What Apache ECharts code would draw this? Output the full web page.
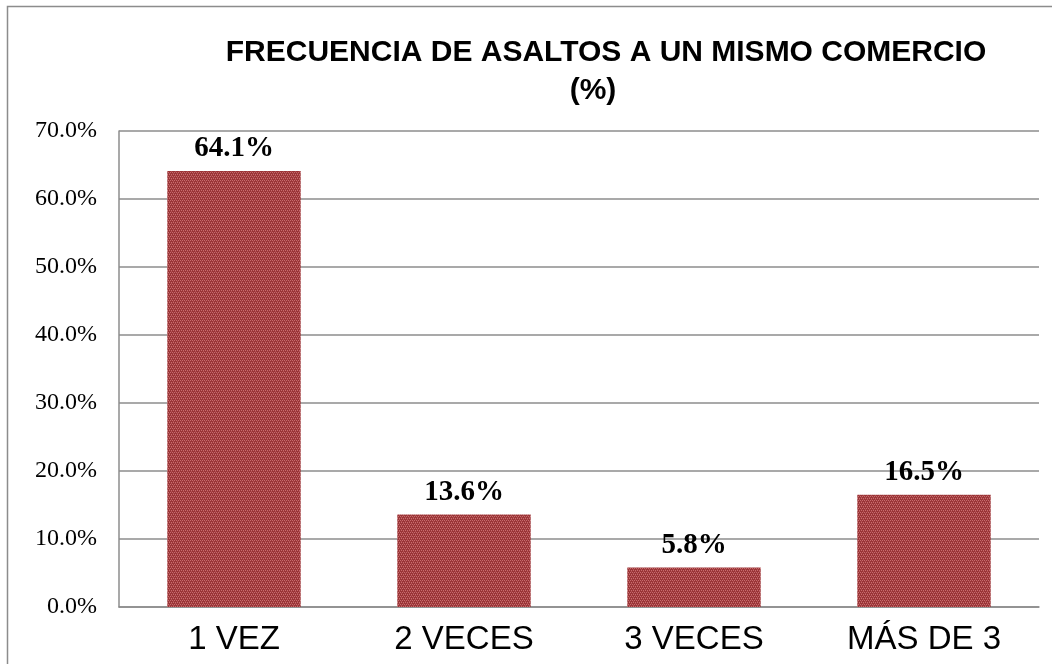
<!DOCTYPE html>
<html>
<head>
<meta charset="utf-8">
<script src="https://cdn.jsdelivr.net/npm/echarts@6/dist/echarts.min.js"></script>
<style>
  html, body { margin: 0; padding: 0; background: #fff; }
  #chart { width: 1052px; height: 664px; }
</style>
</head>
<body>
<div id="chart"></div>
<script>
// datos
var categorias = ["1 VEZ", "2 VECES", "3 VECES", "MÁS DE 3"];
var porcentajes = [64.1, 13.6, 5.8, 16.5];
var ticksY = [0, 10, 20, 30, 40, 50, 60, 70];

// textura de las barras (tramado rojo)
function makePattern() {
  var c = document.createElement("canvas");
  c.width = 4;
  c.height = 4;
  var ctx = c.getContext("2d");
  ctx.fillStyle = "#9a3537";
  ctx.fillRect(0, 0, 4, 4);
  ctx.fillStyle = "#c86c6e";
  ctx.fillRect(0, 0, 1, 1);
  ctx.fillRect(2, 0, 1, 1);
  ctx.fillRect(1, 2, 1, 1);
  ctx.fillRect(3, 2, 1, 1);
  ctx.fillStyle = "#b14e50";
  ctx.fillRect(1, 1, 1, 1);
  ctx.fillRect(3, 3, 1, 1);
  return c;
}

var estiloTitulo = {
  fontFamily: "Liberation Sans",
  fontWeight: "bold",
  fontSize: 30,
  color: "#000"
};

var chart = echarts.init(document.getElementById("chart"));
var option = {
  animation: false,
  backgroundColor: "#fff",
  graphic: [
    {
      type: "rect",
      shape: { x: 7.5, y: 6.5, width: 1100, height: 700 },
      style: { fill: "none", stroke: "#8c8c8c", lineWidth: 1.5 },
      silent: true
    }
  ],
  title: [
    {
      text: "FRECUENCIA DE ASALTOS A UN MISMO COMERCIO",
      left: 601,
      top: 33,
      textAlign: "center",
      textStyle: estiloTitulo
    },
    {
      text: "(%)",
      left: 588,
      top: 71,
      textAlign: "center",
      textStyle: estiloTitulo
    }
  ],
  grid: {
    left: 119,
    right: 13,
    top: 131,
    bottom: 57,
    containLabel: false
  },
  xAxis: {
    type: "category",
    data: categorias,
    axisLine: { show: true, lineStyle: { color: "#8c8c8c", width: 1.5 } },
    axisTick: { show: false },
    axisLabel: {
      fontFamily: "Liberation Sans",
      fontSize: 33,
      color: "#000",
      margin: 16
    }
  },
  yAxis: {
    type: "value",
    min: ticksY[0],
    max: ticksY[ticksY.length - 1],
    interval: 10,
    axisLine: { show: true, lineStyle: { color: "#8c8c8c", width: 1.5 } },
    axisTick: { show: false },
    splitLine: { lineStyle: { color: "#8c8c8c", width: 1.5 } },
    axisLabel: {
      fontFamily: "Liberation Serif",
      fontSize: 24,
      color: "#000",
      margin: 22,
      formatter: function (v) { return v.toFixed(1) + "%"; }
    }
  },
  series: [
    {
      type: "bar",
      data: porcentajes,
      barWidth: "58%",
      itemStyle: {
        color: { image: makePattern(), repeat: "repeat" }
      },
      label: {
        show: true,
        position: "top",
        distance: 8,
        fontFamily: "Liberation Serif",
        fontWeight: "bold",
        fontSize: 29,
        color: "#000",
        formatter: function (p) { return p.value.toFixed(1) + "%"; }
      }
    }
  ]
};
chart.setOption(option);
window.onresize = function () {
  chart.resize();
};
</script>
</body>
</html>
